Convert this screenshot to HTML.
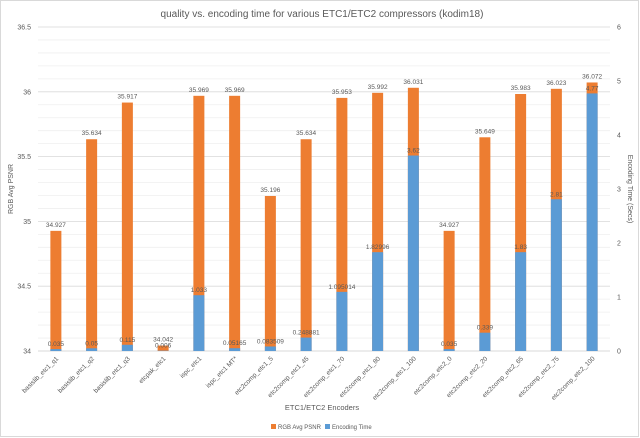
<!DOCTYPE html>
<html><head><meta charset="utf-8"><style>
body{margin:0;background:#fff;}
svg{display:block;font-family:"Liberation Sans",sans-serif;}
</style></head><body>
<svg id="chart" width="640" height="438" viewBox="0 0 640 438">
<rect x="0.5" y="0.5" width="638" height="436" fill="#fff" stroke="#d9d9d9"/>
<text x="322" y="17" font-size="10" fill="#595959" text-anchor="middle">quality vs. encoding time for various ETC1/ETC2 compressors (kodim18)</text>
<g id="grid"></g><g id="bars"></g><g id="labels"></g>
<text transform="translate(13,189) rotate(-90)" font-size="7" fill="#595959" text-anchor="middle">RGB Avg PSNR</text>
<text transform="translate(628,189) rotate(90)" font-size="7" fill="#595959" text-anchor="middle">Encoding Time (Secs)</text>
<text x="322" y="410" font-size="7.5" fill="#595959" text-anchor="middle">ETC1/ETC2 Encoders</text>
<g>
<rect x="271" y="424" width="5" height="5" fill="#ed7d31"/>
<text x="278" y="429" font-size="6" fill="#595959">RGB Avg PSNR</text>
<rect x="325" y="424" width="5" height="5" fill="#5b9bd5"/>
<text x="332" y="429" font-size="6" fill="#595959">Encoding Time</text>
</g>
</svg>
<script>
const categories=["basislib_etc1_q1","basislib_etc1_q2","basislib_etc1_q3","etcpak_etc1","ispc_etc1","ispc_etc1 MT*","etc2comp_etc1_5","etc2comp_etc1_45","etc2comp_etc1_70","etc2comp_etc1_80","etc2comp_etc1_100","etc2comp_etc2_0","etc2comp_etc2_20","etc2comp_etc2_65","etc2comp_etc2_75","etc2comp_etc2_100"];
const psnr=[34.927,35.634,35.917,34.042,35.969,35.969,35.196,35.634,35.953,35.992,36.031,34.927,35.649,35.983,36.023,36.072];
const psnrLabels=["34.927","35.634","35.917","34.042","35.969","35.969","35.196","35.634","35.953","35.992","36.031","34.927","35.649","35.983","36.023","36.072"];
const times=[0.035,0.05,0.115,0.006,1.033,0.05165,0.083509,0.248881,1.095014,1.82996,3.62,0.035,0.339,1.83,2.81,4.77];
const timeLabels=["0.035","0.05","0.115","0.006","1.033","0.05165","0.083509","0.248881","1.095014","1.82996","3.62","0.035","0.339","1.83","2.81","4.77"];
const yTicks=[34,34.5,35,35.5,36,36.5];
const y2Ticks=[0,1,2,3,4,5,6];
const NS="http://www.w3.org/2000/svg";
const x0=38,x1=610,yTop=27,yBot=351;
const yP=v=>yBot-(v-34)/2.5*(yBot-yTop);
const yT=v=>yBot-v/6*(yBot-yTop);
const step=(x1-x0)/categories.length;
const xC=i=>x0+step*(i+0.5);
function mk(tag,attrs,parent){const e=document.createElementNS(NS,tag);for(const k in attrs)e.setAttribute(k,attrs[k]);parent.appendChild(e);return e;}
const grid=document.getElementById('grid'),bars=document.getElementById('bars'),labels=document.getElementById('labels');
for(let k=0;k<=25;k++){const v=34+k*0.1;const major=k%5===0;
 const l=mk('line',{x1:x0,x2:x1,y1:yP(v),y2:yP(v),stroke:major?'#d9d9d9':'#efefef','stroke-width':0.8},grid);
 
 }
yTicks.forEach(v=>{const t=mk('text',{x:31,y:yP(v)+2.5,'font-size':7,fill:'#595959','text-anchor':'end'},grid);t.textContent=String(v);
 
 });
y2Ticks.forEach(v=>{const t=mk('text',{x:617,y:yT(v)+2.5,'font-size':7,fill:'#595959'},grid);t.textContent=String(v);
 
 });
const bw=11;
categories.forEach((c,i)=>{const cx=xC(i);
 const ob=mk('rect',{x:cx-bw/2,y:yP(psnr[i]),width:bw,height:yBot-yP(psnr[i]),fill:'#ed7d31'},bars);
 
 
 const bb=mk('rect',{x:cx-bw/2,y:yT(times[i]),width:bw,height:yBot-yT(times[i]),fill:'#5b9bd5'},bars);
 
 
 const pl=mk('text',{x:cx,y:yP(psnr[i])-4,'font-size':6.5,fill:'#595959','text-anchor':'middle'},labels);pl.textContent=psnrLabels[i];
 
 
 const tl=mk('text',{x:cx,y:yT(times[i])-3,'font-size':6.5,fill:'#595959','text-anchor':'middle'},labels);tl.textContent=timeLabels[i];
 
 
 const xl=mk('text',{transform:`translate(${cx+3},${yBot+8}) rotate(-45)`,'font-size':6.5,fill:'#595959','text-anchor':'end'},labels);xl.textContent=c;
 
 
});
mk('line',{x1:x0,x2:x1,y1:yBot,y2:yBot,stroke:'#d9d9d9','stroke-width':1},grid);
</script>
</body></html>
